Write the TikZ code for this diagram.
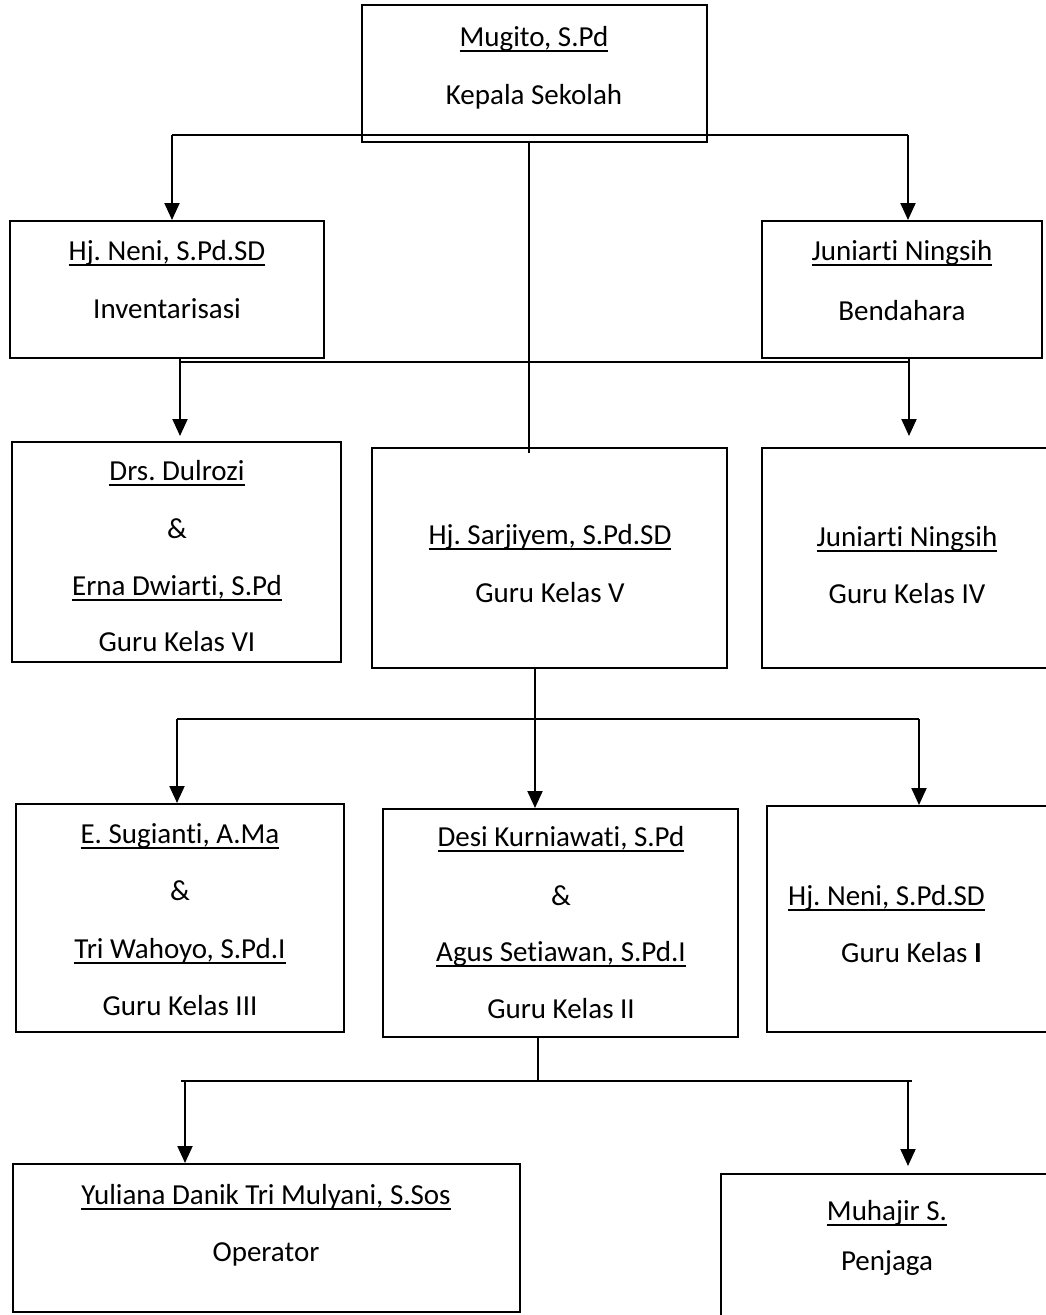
\documentclass[tikz,border=0pt]{standalone}
\usepackage{fontspec}
\setmainfont{Carlito}[Ligatures=NoCommon]
\frenchspacing
\newsavebox{\ulinbox}
\newcommand{\ulin}[1]{\sbox{\ulinbox}{#1}\rlap{\rule[-6pt]{\wd\ulinbox}{1.7pt}}\usebox{\ulinbox}}
\usetikzlibrary{arrows.meta}
\tikzset{
  orgbox/.style={draw, line width=2pt, inner sep=0pt},
  lbl/.style={inner sep=0pt, anchor=base, font=\fontsize{29}{35}\selectfont},
  lbll/.style={lbl, anchor=base west},
  conn/.style={line width=2pt},
  arr/.style={conn, -{Triangle[length=17pt,width=15pt]}}
}
\begin{document}
\begin{tikzpicture}[x=1pt,y=-1pt]
\useasboundingbox (0,0) rectangle (1046,1315);
% boxes
\node[orgbox, minimum width=345pt, minimum height=137pt] (kepala) at (534.5,73.5) {};
\node[orgbox, minimum width=314pt, minimum height=137pt] (neni) at (167,289.5) {};
\node[orgbox, minimum width=280pt, minimum height=137pt] (bendahara) at (902,289.5) {};
\node[orgbox, minimum width=329pt, minimum height=220pt] (drs) at (176.5,552) {};
\node[orgbox, minimum width=355pt, minimum height=220pt] (sarjiyem) at (549.5,558) {};
\node[orgbox, minimum width=290pt, minimum height=220pt] (kelasiv) at (907,558) {};
\node[orgbox, minimum width=328pt, minimum height=228pt] (sugianti) at (180,918) {};
\node[orgbox, minimum width=355pt, minimum height=228pt] (desi) at (560.5,923) {};
\node[orgbox, minimum width=293pt, minimum height=226pt] (kelasi) at (913.5,919) {};
\node[orgbox, minimum width=507pt, minimum height=148pt] (yuliana) at (266.5,1238) {};
\node[orgbox, minimum width=332pt, minimum height=156pt] (muhajir) at (887,1252) {};
% texts
\node[lbl] (t1a) at (534,46) {\ulin{Mugito, S.Pd}};
\node[lbl] (t1b) at (534,104) {Kepala Sekolah};
\node[lbl] (t2a) at (167,260) {\ulin{Hj. Neni, S.Pd.SD}};
\node[lbl] (t2b) at (167,318) {Inventarisasi};
\node[lbl] (t3a) at (902,260) {\ulin{Juniarti Ningsih}};
\node[lbl] (t3b) at (902,320) {Bendahara};
\node[lbl] (t4a) at (177,480) {\ulin{Drs. Dulrozi}};
\node[lbl] (t4b) at (177,538) {\&};
\node[lbl] (t4c) at (177,595) {\ulin{Erna Dwiarti, S.Pd}};
\node[lbl] (t4d) at (177,651) {Guru Kelas VI};
\node[lbl] (t5a) at (550,544) {\ulin{Hj. Sarjiyem, S.Pd.SD}};
\node[lbl] (t5b) at (550,602) {Guru Kelas V};
\node[lbl] (t6a) at (907,546) {\ulin{Juniarti Ningsih}};
\node[lbl] (t6b) at (907,603) {Guru Kelas IV};
\node[lbl] (t7a) at (180,843) {\ulin{E. Sugianti, A.Ma}};
\node[lbl] (t7b) at (180,900) {\&};
\node[lbl] (t7c) at (180,958) {\ulin{Tri Wahoyo, S.Pd.I}};
\node[lbl] (t7d) at (180,1015) {Guru Kelas III};
\node[lbl] (t8a) at (561,846) {\ulin{Desi Kurniawati, S.Pd}};
\node[lbl] (t8b) at (561,905) {\&};
\node[lbl] (t8c) at (561,961) {\ulin{Agus Setiawan, S.Pd.I}};
\node[lbl] (t8d) at (561,1018) {Guru Kelas II};
\node[lbll] (t9a) at (788,905) {\ulin{Hj. Neni, S.Pd.SD}};
\node[lbll] (t9b) at (841,962) {Guru Kelas \textbf{I}};
\node[lbl] (t10a) at (266,1204) {\ulin{Yuliana Danik Tri Mulyani, S.Sos}};
\node[lbl] (t10b) at (266,1261) {Operator};
\node[lbl] (t11a) at (887,1220) {\ulin{Muhajir S.}};
\node[lbl] (t11b) at (887,1270) {Penjaga};
% level 1 connectors
\coordinate (h1a) at (172,135);
\coordinate (h1b) at (908,135);
\draw[conn] (h1a) -- (h1b);
\draw[arr] (h1a) -- (h1a |- neni.north);
\draw[arr] (h1b) -- (h1b |- bendahara.north);
\coordinate (c1) at (529,453);
\draw[conn] (c1 |- kepala.south) -- (c1);
% level 2 connectors
\coordinate (h2a) at (180,362);
\coordinate (h2b) at (909,362);
\coordinate (p2a) at (180,436);
\coordinate (p2b) at (909,436);
\draw[conn] (h2a) -- (h2b);
\draw[arr] (h2a |- neni.south) -- (p2a);
\draw[arr] (h2b |- bendahara.south) -- (p2b);
% level 3 connectors
\coordinate (h3m) at (535,719);
\coordinate (h3a) at (177,719);
\coordinate (h3b) at (919,719);
\draw[conn] (h3m |- sarjiyem.south) -- (h3m);
\draw[conn] (h3a) -- (h3b);
\draw[arr] (h3a) -- (h3a |- sugianti.north);
\draw[arr] (h3m) -- (h3m |- desi.north);
\draw[arr] (h3b) -- (h3b |- kelasi.north);
% level 4 connectors
\coordinate (h4m) at (538,1081);
\coordinate (h4a) at (181,1081);
\coordinate (h4b) at (912,1081);
\coordinate (q4a) at (185,1081);
\coordinate (q4b) at (908,1081);
\draw[conn] (h4m |- desi.south) -- (h4m);
\draw[conn] (h4a) -- (h4b);
\draw[arr] (q4a) -- (q4a |- yuliana.north);
\draw[arr] (q4b) -- ([yshift=7pt]q4b |- muhajir.north);
\end{tikzpicture}
\end{document}
